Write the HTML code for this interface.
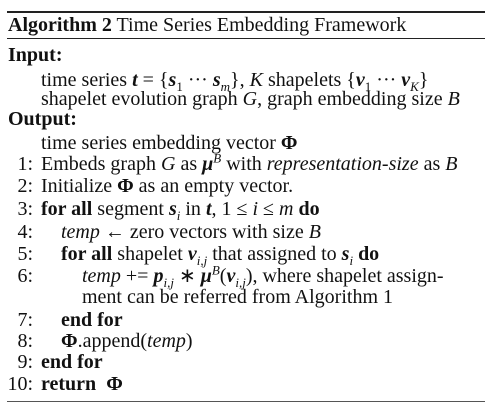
<!DOCTYPE html>
<html><head><meta charset="utf-8"><style>
html,body{margin:0;padding:0;background:#fff}
#c{position:relative;width:497px;height:413px;overflow:hidden;font-family:"Liberation Serif",serif;font-size:20px;color:#111}
.l{position:absolute;white-space:nowrap;line-height:22px}
.n{position:absolute;width:28px;text-align:right;white-space:nowrap;line-height:22px}
.r{position:absolute;left:7px;width:478px;background:#222}
i{font-style:italic}
b{font-weight:bold}
sub,sup{font-size:13px;line-height:0}
</style></head><body>
<div id="c">
<div class="r" style="top:11px;height:2px"></div>
<div class="l" style="left:8px;top:14px"><b>Algorithm 2</b> Time Series Embedding Framework</div>
<div class="r" style="top:38px;height:1px"></div>
<div class="l" style="left:8px;top:44px"><b>Input:</b></div>
<div class="l" style="left:41px;top:69px">time series <b><i>t</i></b> = {<b><i>s</i></b><sub>1</sub> ··· <b><i>s</i></b><sub><i>m</i></sub>}, <i>K</i> shapelets {<b><i>v</i></b><sub>1</sub> ··· <b><i>v</i></b><sub><i>K</i></sub>}</div>
<div class="l" style="left:41px;top:88px">shapelet evolution graph <i>G</i>, graph embedding size <i>B</i></div>
<div class="l" style="left:8px;top:108px"><b>Output:</b></div>
<div class="l" style="left:41px;top:132px">time series embedding vector <b>Φ</b></div>
<div class="n" style="left:5px;top:153px">1:</div>
<div class="l" style="left:41px;top:153px">Embeds graph <i>G</i> as <b><i>μ</i></b><sup><i>B</i></sup> with <i>representation-size</i> as <i>B</i></div>
<div class="n" style="left:5px;top:175px">2:</div>
<div class="l" style="left:41px;top:175px">Initialize <b>Φ</b> as an empty vector.</div>
<div class="n" style="left:5px;top:198px">3:</div>
<div class="l" style="left:41px;top:198px"><b>for all</b> segment <b><i>s</i></b><sub><i>i</i></sub> in <b><i>t</i></b>, 1 ≤ <i>i</i> ≤ <i>m</i> <b>do</b></div>
<div class="n" style="left:5px;top:221px">4:</div>
<div class="l" style="left:61px;top:221px"><i>temp</i> ← zero vectors with size <i>B</i></div>
<div class="n" style="left:5px;top:243px">5:</div>
<div class="l" style="left:61px;top:243px"><b>for all</b> shapelet <b><i>v</i></b><sub><i>i,j</i></sub> that assigned to <b><i>s</i></b><sub><i>i</i></sub> <b>do</b></div>
<div class="n" style="left:5px;top:265px">6:</div>
<div class="l" style="left:82px;top:265px"><i>temp</i> += <b><i>p</i></b><sub><i>i,j</i></sub> ∗ <b><i>μ</i></b><sup><i>B</i></sup>(<b><i>v</i></b><sub><i>i,j</i></sub>), where shapelet assign-</div>
<div class="l" style="left:82px;top:286px">ment can be referred from Algorithm 1</div>
<div class="n" style="left:5px;top:309px">7:</div>
<div class="l" style="left:61px;top:309px"><b>end for</b></div>
<div class="n" style="left:5px;top:330px">8:</div>
<div class="l" style="left:61px;top:330px"><b>Φ</b>.append(<i>temp</i>)</div>
<div class="n" style="left:5px;top:351px">9:</div>
<div class="l" style="left:41px;top:351px"><b>end for</b></div>
<div class="n" style="left:5px;top:373px">10:</div>
<div class="l" style="left:41px;top:373px"><b>return</b>&nbsp; <b>Φ</b></div>
<div class="r" style="top:401px;height:1px;background:#555"></div>
</div>
</body></html>
